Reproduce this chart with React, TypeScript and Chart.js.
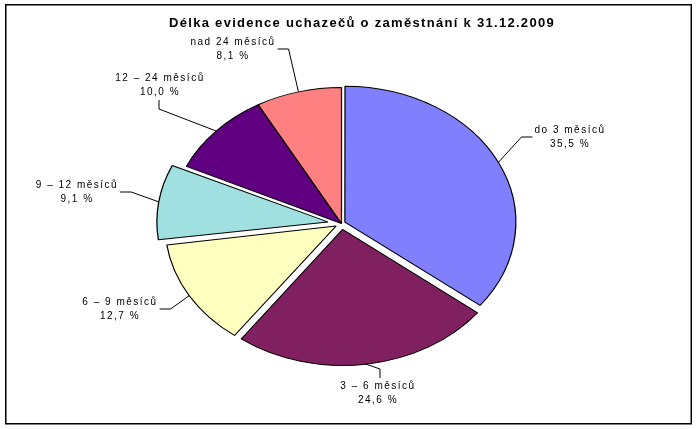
import { useEffect, useRef } from 'react';
import { Chart, registerables } from 'chart.js';

Chart.register(...registerables);

const TITLE = 'Délka evidence uchazečů o zaměstnání k 31.12.2009';
const categories = ['do 3 měsíců', '3 – 6 měsíců', '6 – 9 měsíců', '9 – 12 měsíců', '12 – 24 měsíců', 'nad 24 měsíců'];
const shares = [35.5, 24.6, 12.7, 9.1, 10.0, 8.1];
const sliceColors = ['#8080FF', '#802060', '#FFFFC0', '#A0E0E0', '#600080', '#FF8080'];

// how far each slice is pulled out of the pie (px)
const explode = [3, 6, 5, 11, 0, 0];

// centre of each two-line label and the side the leader line comes in from
const labelBoxes = [
  { x: 570, y: 137, side: 'left' },
  { x: 378, y: 393, side: 'top' },
  { x: 120, y: 309, side: 'right' },
  { x: 77, y: 192, side: 'right' },
  { x: 160, y: 85, side: 'bottom' },
  { x: 233, y: 49, side: 'right' },
];

const RADIUS = 136;
const STRETCH_X = 1.257; // the pie is drawn as an ellipse

const fmt = (v: number) => v.toFixed(1).replace('.', ',') + ' %';

const arcFix = (arc: any) => 1 - Math.sin(Math.min(Math.PI, arc.endAngle - arc.startAngle));

const ellipsePie = {
  id: 'ellipsePie',
  afterDatasetsUpdate(chart: any) {
    // chart.js grows the radius of offset slices, undo that so all slices share one radius
    chart.getDatasetMeta(0).data.forEach((arc: any, i: number) => {
      arc.outerRadius = RADIUS - explode[i] * arcFix(arc);
    });
  },
  beforeDatasetsDraw(chart: any) {
    const arc = chart.getDatasetMeta(0).data[0];
    const ctx = chart.ctx;
    ctx.save();
    ctx.translate(arc.x, arc.y);
    ctx.scale(STRETCH_X, 1);
    ctx.translate(-arc.x, -arc.y);
  },
  afterDatasetsDraw(chart: any) {
    chart.ctx.restore();
  },
  afterDraw(chart: any) {
    const ctx = chart.ctx as CanvasRenderingContext2D;
    ctx.save();
    ctx.fillStyle = '#000';
    ctx.strokeStyle = '#000';
    ctx.textAlign = 'center';
    ctx.textBaseline = 'middle';

    // title
    ctx.font = 'bold 13px "Liberation Sans", Arial, sans-serif';
    (ctx as any).letterSpacing = '1.3px';
    ctx.fillText(TITLE, 362, 23);

    // labels + leader lines
    ctx.font = '10px "Liberation Sans", Arial, sans-serif';
    (ctx as any).letterSpacing = '1.5px';
    ctx.lineWidth = 1;
    chart.getDatasetMeta(0).data.forEach((arc: any, i: number) => {
      const box = labelBoxes[i];
      const l1 = categories[i];
      const l2 = fmt(shares[i]);
      ctx.fillText(l1, box.x, box.y - 7);
      ctx.fillText(l2, box.x, box.y + 7);

      const mid = (arc.startAngle + arc.endAngle) / 2;
      const r = arc.outerRadius + explode[i] * arcFix(arc) + explode[i];
      const ax = arc.x + Math.cos(mid) * r * STRETCH_X;
      const ay = arc.y + Math.sin(mid) * r;

      const w = Math.max(ctx.measureText(l1).width, ctx.measureText(l2).width);
      let ex = box.x, ey = box.y, kx = box.x, ky = box.y;
      if (box.side === 'right') {
        ex = box.x + w / 2 + 2; kx = ex + 11;
      } else if (box.side === 'left') {
        ex = box.x - w / 2 - 2; kx = ex - 11;
      } else if (box.side === 'top') {
        ex = kx = box.x + 2; ey = box.y - 15; ky = ey - 9;
      } else {
        ex = kx = box.x - 1; ey = box.y + 15; ky = ey + 9;
      }
      ctx.beginPath();
      ctx.moveTo(ax, ay);
      ctx.lineTo(kx, ky);
      ctx.lineTo(ex, ey);
      ctx.stroke();
    });

    // chart frame
    ctx.lineWidth = 1.5;
    ctx.strokeRect(5.75, 4.75, 685.5, 419);
    ctx.restore();
  },
};

export default function App() {
  const chartRef = useRef<HTMLCanvasElement>(null);
  const chartInstance = useRef<Chart | null>(null);

  useEffect(() => {
    if (!chartRef.current) return;
    if (chartInstance.current) chartInstance.current.destroy();

    chartInstance.current = new Chart(chartRef.current, {
      type: 'pie',
      data: {
        labels: categories,
        datasets: [
          {
            data: shares,
            backgroundColor: sliceColors,
            borderColor: '#000',
            borderWidth: 1,
            offset: explode.map((e) => e * 4),
            hoverOffset: 0,
          },
        ],
      },
      options: {
        responsive: false,
        animation: false,
        radius: RADIUS,
        layout: { padding: { left: 0, right: 15, top: 18, bottom: 0 } },
        plugins: {
          legend: { display: false },
          tooltip: { enabled: false },
          title: { display: false },
        },
      } as any,
      plugins: [ellipsePie],
    });

    return () => {
      if (chartInstance.current) {
        chartInstance.current.destroy();
        chartInstance.current = null;
      }
    };
  }, []);

  return (
    <div style={{ position: 'absolute', left: 0, top: 0, width: 698, height: 429, background: '#fff' }}>
      <canvas ref={chartRef} width={698} height={429} />
    </div>
  );
}
